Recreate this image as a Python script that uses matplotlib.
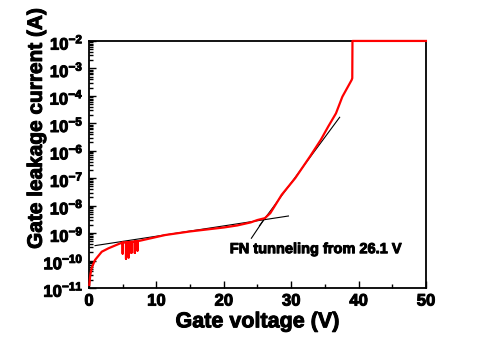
import numpy as np
import matplotlib.pyplot as plt
import matplotlib.patheffects as pe
from matplotlib.ticker import FuncFormatter, LogLocator, MultipleLocator

plt.rcParams['font.family'] = 'Liberation Sans'
plt.rcParams['font.weight'] = 'bold'
plt.rcParams['mathtext.fontset'] = 'custom'
plt.rcParams['mathtext.rm'] = 'Liberation Sans:bold'
plt.rcParams['mathtext.bf'] = 'Liberation Sans:bold'

# measured gate leakage sweep (V, A); the noisy stretch near 5-7.5 V
# shows up as narrow downward spikes
gate_v = [0.05, 0.2, 0.4, 0.9, 1.9, 2.9, 4.4, 4.9,
          5.0, 5.0, 5.0, 5.5, 5.5, 5.5, 5.9, 5.9, 5.9, 6.3, 6.3, 6.3,
          6.8, 6.8, 6.8, 7.2, 7.2, 7.2, 7.6,
          11.3, 15.0, 20.0, 22.0, 24.0, 25.0, 26.1, 26.9, 27.8, 28.6,
          30.6, 32.8, 34.4, 35.5, 36.65, 37.6, 38.98, 39.07, 39.1, 50.0]
gate_i = [1.3e-11, 3.0e-11, 5.4e-11, 1.05e-10, 2.1e-10, 2.8e-10, 4.0e-10, 4.5e-10,
          4.5e-10, 1.8e-10, 4.5e-10, 4.6e-10, 1.15e-10, 4.6e-10,
          4.7e-10, 1.3e-10, 4.7e-10, 4.8e-10, 1.9e-10, 4.8e-10,
          5.0e-10, 1.9e-10, 5.0e-10, 5.1e-10, 2.3e-10, 5.1e-10,
          5.3e-10, 8.5e-10, 1.15e-9, 1.6e-9, 1.9e-9, 2.45e-9, 3.0e-9, 3.5e-9,
          5.3e-9, 1.2e-8, 2.5e-8, 1.0e-7, 6.2e-7, 2.5e-6, 7.6e-6, 2.3e-5,
          9.3e-5, 3.8e-4, 4.4e-4, 1.0e-2, 1.0e-2]

# straight-line fits on the log scale
low_fit_v = [0.9, 29.6]
low_fit_i = [3.5e-10, 4.2e-9]
fn_fit_v = [25.3, 37.2]
fn_fit_i = [1.86e-9, 1.66e-5]

heavy = [pe.withStroke(linewidth=0.7, foreground='black')]

fig = plt.figure(figsize=(4.97, 3.47), dpi=100)
ax = fig.add_axes([0.179, 0.170, 0.678, 0.712])

ax.plot(low_fit_v, low_fit_i, color='black', lw=0.8)
ax.plot(fn_fit_v, fn_fit_i, color='black', lw=0.8)
ax.plot(gate_v, gate_i, color='red', lw=1.6, clip_on=False, zorder=5)

ax.set_yscale('log')
ax.set_xlim(0, 50)
ax.set_ylim(1e-11, 1e-2)

ax.xaxis.set_major_locator(MultipleLocator(10))
ax.xaxis.set_minor_locator(MultipleLocator(5))
ax.yaxis.set_major_locator(LogLocator(base=10, numticks=20))
ax.yaxis.set_minor_locator(LogLocator(base=10, subs=np.arange(2, 10), numticks=20))
ax.yaxis.set_major_formatter(FuncFormatter(lambda v, p: r'$10^{%d}$' % round(np.log10(v))))

ax.tick_params(which='both', direction='in', top=False, right=False, width=1.0)
ax.tick_params(which='major', length=5, labelsize=12, pad=4)
ax.tick_params(which='minor', length=3)
for s in ax.spines.values():
    s.set_linewidth(1.3)
for lab in ax.get_xticklabels() + ax.get_yticklabels():
    lab.set_path_effects(heavy)

ax.set_xlabel('Gate voltage (V)', fontsize=15.5, fontweight='bold', labelpad=2,
              path_effects=heavy)
ax.set_ylabel('Gate leakage current (A)', fontsize=15, fontweight='bold',
              path_effects=heavy)
ax.yaxis.set_label_coords(-0.128, 0.648)

# pointer from the label to the intersection of the two fits
ax.plot([24.1, 26.1], [6.5e-10, 3.5e-9], color='black', lw=0.8)
ax.text(20.9, 2.6e-10, 'FN tunneling from 26.1 V', fontsize=10.5, fontweight='bold',
        va='center', ha='left', path_effects=heavy)

fig.savefig('out.png', dpi=100)
